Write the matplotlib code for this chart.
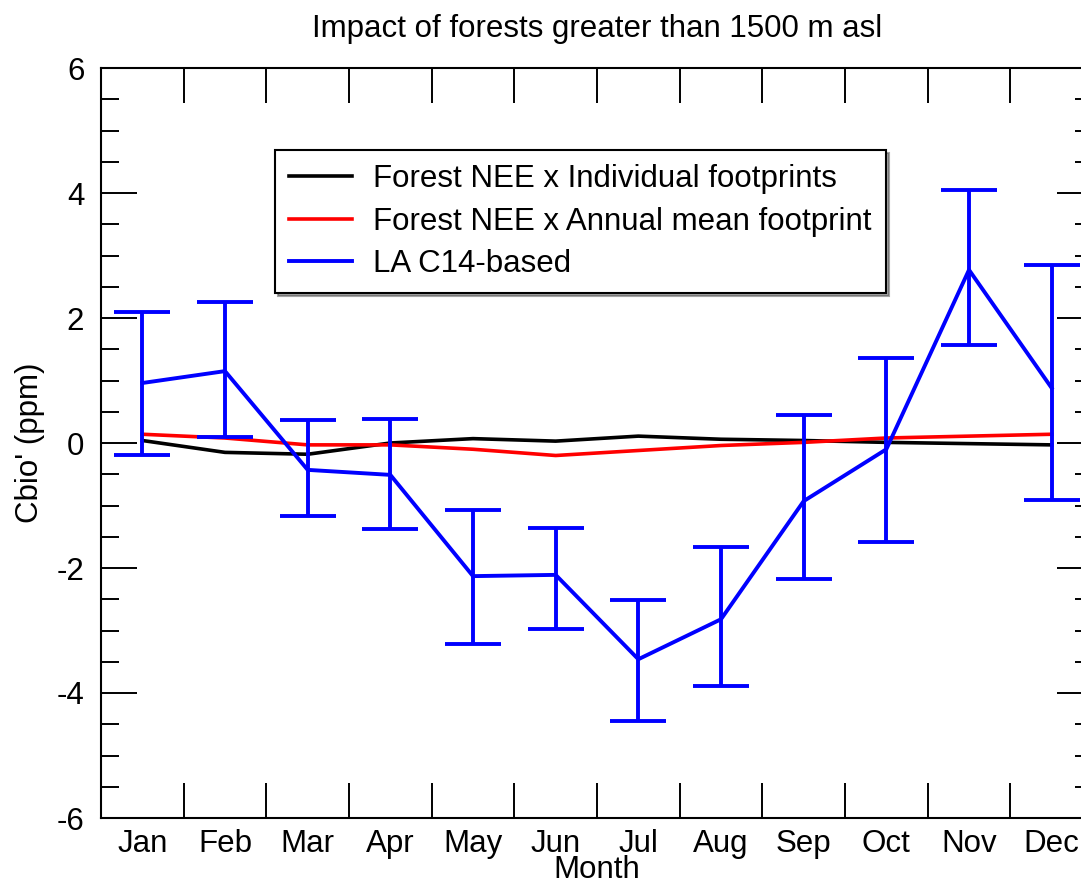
import numpy as np
import matplotlib
matplotlib.use('Agg')
import matplotlib.pyplot as plt
from matplotlib.ticker import MultipleLocator

plt.rcParams['font.family'] = ['Liberation Sans', 'DejaVu Sans']
plt.rcParams['axes.unicode_minus'] = False

months = ['Jan', 'Feb', 'Mar', 'Apr', 'May', 'Jun',
          'Jul', 'Aug', 'Sep', 'Oct', 'Nov', 'Dec']

# forest NEE convolved with per-month footprints
nee_indiv = [0.04, -0.15, -0.18, 0.00, 0.07, 0.03, 0.11, 0.06, 0.04, 0.01, -0.01, -0.03]
# forest NEE convolved with the annual mean footprint
nee_annual = [0.14, 0.08, -0.03, -0.03, -0.10, -0.20, -0.12, -0.04, 0.01, 0.08, 0.11, 0.14]
# LA C14-based estimate with its uncertainty range
c14 = [0.96, 1.15, -0.43, -0.51, -2.13, -2.11, -3.46, -2.82, -0.93, -0.10, 2.77, 0.88]
c14_hi = [2.10, 2.26, 0.37, 0.38, -1.07, -1.36, -2.51, -1.66, 0.45, 1.36, 4.05, 2.85]
c14_lo = [-0.19, 0.10, -1.17, -1.38, -3.22, -2.98, -4.45, -3.89, -2.18, -1.58, 1.57, -0.91]

x = np.arange(1, 13)
c14 = np.array(c14)
yerr = [c14 - np.array(c14_lo), np.array(c14_hi) - c14]

fs = 22.5

fig = plt.figure(figsize=(10.81, 8.86), dpi=100)
ax = fig.add_axes([101 / 1081, 1 - 818 / 886, 992 / 1081, 750 / 886])

ax.plot(x, nee_indiv, color='black', lw=2.6, label='Forest NEE x Individual footprints')
ax.plot(x, nee_annual, color='red', lw=2.6, label='Forest NEE x Annual mean footprint')
ax.plot(x, c14, color='blue', lw=2.8, label='LA C14-based')
ax.errorbar(x, c14, yerr=yerr, fmt='none', ecolor='blue', elinewidth=2.8,
            capsize=20, capthick=2.8)

ax.set_xlim(0.5, 12.5)
ax.set_ylim(-6, 6)

ax.set_xticks(x)
ax.set_xticklabels(months)
ax.xaxis.set_minor_locator(MultipleLocator(1, offset=0.5))
ax.tick_params(axis='x', which='major', length=0, pad=8, labelsize=fs)
ax.tick_params(axis='x', which='minor', direction='in', length=25, width=1.4,
               top=True, bottom=True)

ax.yaxis.set_major_locator(MultipleLocator(2))
ax.yaxis.set_minor_locator(MultipleLocator(0.5))
ax.tick_params(axis='y', which='major', direction='in', length=26, width=1.4,
               left=True, right=True, pad=12, labelsize=fs)
ax.tick_params(axis='y', which='minor', direction='in', length=13, width=1.4,
               left=True, right=True)

for s in ax.spines.values():
    s.set_linewidth(1.5)

ax.set_xlabel('Month', fontsize=fs, labelpad=-3)
ax.set_ylabel("Cbio' (ppm)", fontsize=fs, labelpad=8)
ax.set_title('Impact of forests greater than 1500 m asl', fontsize=fs, pad=22)

leg = ax.legend(loc='upper left', bbox_to_anchor=(0.1754, 0.8907), borderaxespad=0,
                fontsize=fs, fancybox=False, shadow=True, edgecolor='black',
                framealpha=1, handlelength=2.0, handletextpad=0.7,
                borderpad=0.45, labelspacing=0.4)
leg.get_frame().set_linewidth(1.5)

fig.savefig('out.png', dpi=100)
